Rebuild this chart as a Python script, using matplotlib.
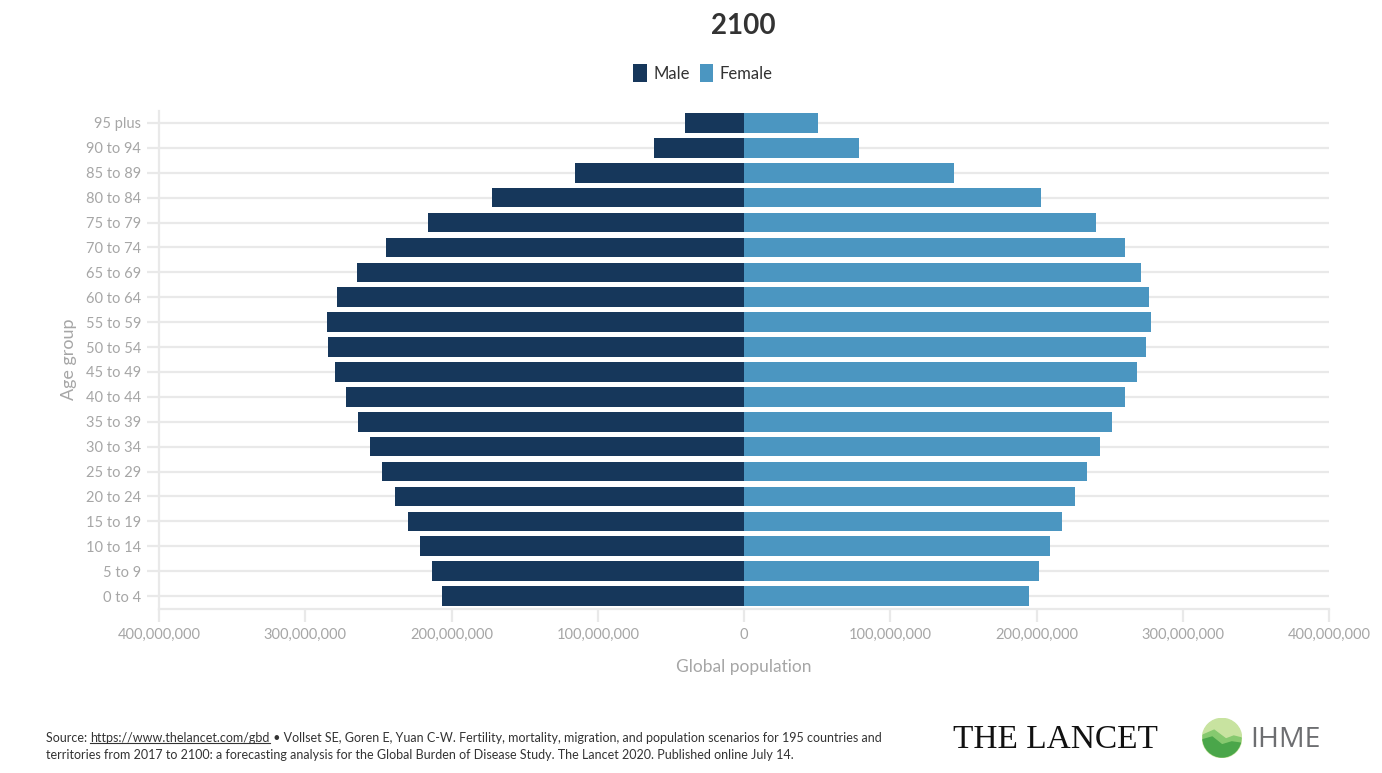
import matplotlib
matplotlib.use("Agg")
import matplotlib.pyplot as plt
from matplotlib.patches import Patch, Circle, Polygon
from matplotlib.ticker import FuncFormatter
import numpy as np

age_groups = ["0 to 4", "5 to 9", "10 to 14", "15 to 19", "20 to 24", "25 to 29",
              "30 to 34", "35 to 39", "40 to 44", "45 to 49", "50 to 54", "55 to 59",
              "60 to 64", "65 to 69", "70 to 74", "75 to 79", "80 to 84", "85 to 89",
              "90 to 94", "95 plus"]
male = [206.2e6, 213.5e6, 221.5e6, 229.9e6, 238.6e6, 247.5e6, 255.9e6, 264.1e6,
        272.1e6, 279.7e6, 284.6e6, 284.9e6, 278.0e6, 264.8e6, 245.0e6, 215.8e6,
        172.3e6, 115.3e6, 61.5e6, 40.5e6]
female = [194.9e6, 201.7e6, 209.5e6, 217.4e6, 226.1e6, 234.8e6, 243.4e6, 251.9e6,
          260.5e6, 268.5e6, 274.9e6, 278.1e6, 276.9e6, 271.3e6, 260.8e6, 241.0e6,
          203.3e6, 143.6e6, 78.6e6, 50.9e6]
xticks = [-400e6, -300e6, -200e6, -100e6, 0, 100e6, 200e6, 300e6, 400e6]

MALE_C = "#16375b"
FEMALE_C = "#4b96c1"
GRID_C = "#e9e9e9"
LABEL_C = "#a6a6a6"

FONT = ["Lato", "DejaVu Sans"]
plt.rcParams["font.family"] = FONT

W, H = 1382, 773
fig = plt.figure(figsize=(W / 100, H / 100), dpi=100)
fig.patch.set_facecolor("white")

left = 159 / W
right = 1329 / W
top = 1 - 110.5 / H
bottom = 1 - 608.5 / H
ax = fig.add_axes([left, bottom, right - left, top - bottom])

y = np.arange(len(age_groups))
ax.barh(y, [-m for m in male], height=0.79, color=MALE_C, edgecolor="none", zorder=3)
ax.barh(y, female, height=0.79, color=FEMALE_C, edgecolor="none", zorder=3)

ax.set_xlim(-400e6, 400e6)
ax.set_ylim(-0.5, len(age_groups) - 0.5)
ax.set_xticks(xticks)
ax.xaxis.set_major_formatter(FuncFormatter(lambda v, p: f"{abs(int(round(v))):,}"))
ax.set_yticks(y)
ax.set_yticklabels(age_groups)

for yy in y:
    ax.axhline(yy, color=GRID_C, lw=1.6, zorder=1)

for s in ["top", "right"]:
    ax.spines[s].set_visible(False)
ax.spines["left"].set_color(GRID_C)
ax.spines["left"].set_linewidth(1.6)
ax.spines["bottom"].set_color(GRID_C)
ax.spines["bottom"].set_linewidth(1.6)

ax.tick_params(axis="y", length=9, width=1.6, color=GRID_C, labelcolor=LABEL_C,
               labelsize=10.5, pad=4)
ax.tick_params(axis="x", length=9, width=1.6, color=GRID_C, labelcolor=LABEL_C,
               labelsize=10.5, pad=5)

ax.set_xlabel("Global population", color=LABEL_C, fontsize=12.5, labelpad=12)
ax.set_ylabel("Age group", color=LABEL_C, fontsize=13, labelpad=6)

# Title
fig.text(743 / W, 1 - 26 / H, "2100", ha="center", va="center", fontsize=20,
         fontweight="bold", color="#333333")

# Legend
handles = [Patch(facecolor=MALE_C, edgecolor="none", label="Male"),
           Patch(facecolor=FEMALE_C, edgecolor="none", label="Female")]
fig.legend(handles=handles, loc="center", bbox_to_anchor=(703 / W, 1 - 73 / H),
           ncol=2, frameon=False, fontsize=12, handlelength=0.8, handleheight=1.3,
           handletextpad=0.4, columnspacing=0.6, labelcolor="#333333")

# Footer source text
renderer = fig.canvas.get_renderer()
fs = 9
ty1 = 1 - 738 / H
ty2 = 1 - 755 / H
t0 = fig.text(46 / W, ty1, "Source: ", fontsize=fs, color="#333333", va="center")
bb0 = t0.get_window_extent(renderer)
t1 = fig.text(bb0.x1 / W, ty1, "https://www.thelancet.com/gbd", fontsize=fs,
              color="#333333", va="center")
bb1 = t1.get_window_extent(renderer)
fig.add_artist(plt.Line2D([bb1.x0 / W, bb1.x1 / W], [(bb1.y0 + 1) / H, (bb1.y0 + 1) / H],
                          color="#333333", lw=0.8))
fig.text(bb1.x1 / W, ty1,
         " \u2022 Vollset SE, Goren E, Yuan C-W. Fertility, mortality, migration, and population scenarios for 195 countries and",
         fontsize=fs, color="#333333", va="center")
fig.text(46 / W, ty2,
         "territories from 2017 to 2100: a forecasting analysis for the Global Burden of Disease Study. The Lancet 2020. Published online July 14.",
         fontsize=fs, color="#333333", va="center")

# Logos
fig.text(953 / W, 1 - 740 / H, "THE LANCET", fontsize=24, color="#111111",
         va="center", ha="left", family=["Liberation Serif", "DejaVu Serif"])

lax = fig.add_axes([1202 / W, 1 - 758 / H, 40 / W, 40 / H])
lax.set_xlim(-1.02, 1.02)
lax.set_ylim(-1.02, 1.02)
lax.set_aspect("equal")
lax.axis("off")
circ = Circle((0, 0), 1, color="#c8e3a0")
lax.add_patch(circ)
p1 = Polygon([[1.2, -0.05], [0.6, 0.1], [0.2, -0.05], [-0.4, 0.4], [-1.2, 0.05],
              [-1.2, -1.2], [1.2, -1.2]], closed=True, color="#86c96f")
p2 = Polygon([[1.2, -0.3], [0.5, -0.2], [0.0, -0.35], [-0.5, 0.05], [-1.2, -0.15],
              [-1.2, -1.2], [1.2, -1.2]], closed=True, color="#4aa64a")
for p in (p1, p2):
    lax.add_patch(p)
    p.set_clip_path(circ)

fig.text(1250 / W, 1 - 740 / H, "IHME", fontsize=20.5, color="#6d6e71",
         va="center", ha="left", family=["Open Sans", "DejaVu Sans"])

fig.savefig("out.png", dpi=100, facecolor="white")
